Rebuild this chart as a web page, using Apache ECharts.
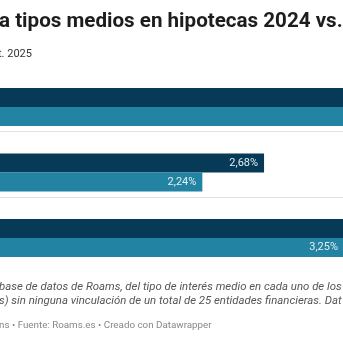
<!DOCTYPE html>
<html>
<head>
<meta charset="utf-8">
<style>html,body{margin:0;padding:0;background:#fff;}#c{width:343px;height:343px;}</style>
<script src="https://cdn.jsdelivr.net/npm/echarts@6/dist/echarts.min.js"></script>
</head>
<body>
<div id="c"></div>
<script>
const categories = ["Tipo fijo", "Tipo variable", "Tipo mixto"];
const values2024 = [3.75, 2.68, 3.58];
const values2025 = [3.55, 2.24, 3.25];
const seriesNames = ["2024", "2025"];

const chart = echarts.init(document.getElementById('c'), null, {renderer: 'canvas'});
const fmt = p => p.value.toFixed(2).replace('.', ',') + '%';
const labelCfg = {show: true, position: 'insideRight', distance: 6, color: '#e4eef3', fontSize: 11, fontFamily: 'Roboto', formatter: fmt};

chart.setOption({
  animation: false,
  title: [
    {text: 'a tipos medios en hipotecas 2024 vs.', left: -1, top: 11, padding: 0, textStyle: {fontFamily: 'Roboto', fontWeight: 'bold', fontSize: 20.6, color: '#1d1d1d'}},
    {text: 't. 2025', left: -2, top: 49, padding: 0, textStyle: {fontFamily: 'Roboto', fontWeight: 'normal', fontSize: 11, color: '#333'}},
    {text: 'base de datos de Roams, del tipo de interés medio en cada uno de los', left: -1, top: 282, padding: 0, textStyle: {fontFamily: 'Roboto', fontStyle: 'italic', fontWeight: 'normal', fontSize: 11.4, color: '#555'}},
    {text: 's) sin ninguna vinculación de un total de 25 entidades financieras. Dat', left: -1, top: 296, padding: 0, textStyle: {fontFamily: 'Roboto', fontStyle: 'italic', fontWeight: 'normal', fontSize: 11.4, color: '#555'}},
    {text: 'ns • Fuente: Roams.es • Creado con Datawrapper', left: -1, top: 321, padding: 0, textStyle: {fontFamily: 'Roboto', fontWeight: 'normal', fontSize: 9.8, color: '#888'}}
  ],
  grid: [
    {left: 0, right: 0, top: 74.25, height: 196.5},
    {left: 0, right: 0, top: 65, height: 198}
  ],
  xAxis: [
    {gridIndex: 0, type: 'value', min: 0.797, max: 3.243, show: false},
    {gridIndex: 1, type: 'value', min: 0, max: 1, show: false}
  ],
  yAxis: [
    {gridIndex: 0, type: 'category', data: categories, inverse: true, show: false},
    {gridIndex: 1, type: 'value', min: 0, max: 3, interval: 1, inverse: true,
      axisLine: {show: false}, axisTick: {show: false}, axisLabel: {show: false},
      splitLine: {show: true, showMinLine: false, showMaxLine: false, lineStyle: {color: '#e2e2e2', width: 1}}}
  ],
  series: [
    {name: seriesNames[0], type: 'bar', xAxisIndex: 0, yAxisIndex: 0, data: values2024, barWidth: 19, barGap: '0%', clip: false, itemStyle: {color: '#063a56'}, label: labelCfg},
    {name: seriesNames[1], type: 'bar', xAxisIndex: 0, yAxisIndex: 0, data: values2025, barWidth: 19, barGap: '0%', clip: false, itemStyle: {color: '#2383a3'}, label: labelCfg}
  ]
});
</script>
</body>
</html>
